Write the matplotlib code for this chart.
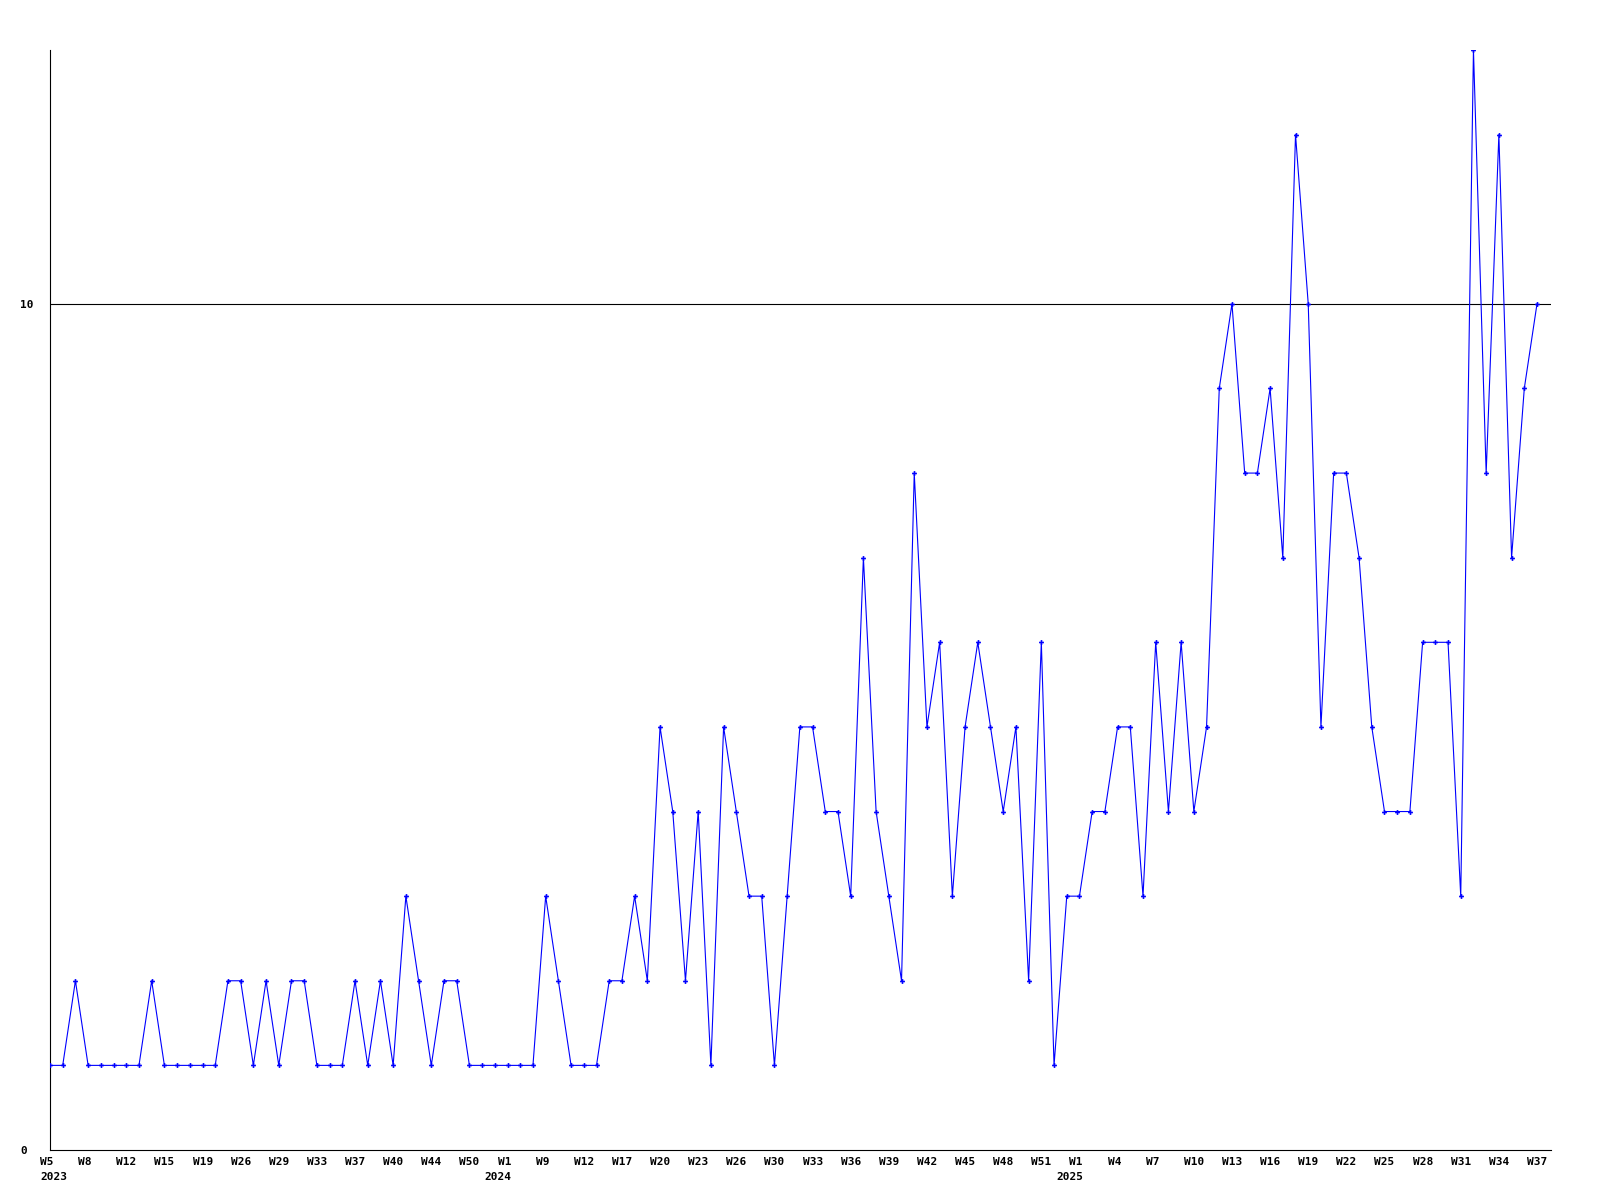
import matplotlib
matplotlib.use("Agg")
import matplotlib.pyplot as plt
from matplotlib.transforms import ScaledTranslation

# ============================================================
# DATA
# ============================================================
counts = [
    1, 1, 2, 1, 1, 1, 1, 1, 2, 1, 1, 1, 1, 1, 2, 2, 1, 2, 1, 2,
    2, 1, 1, 1, 2, 1, 2, 1, 3, 2, 1, 2, 2, 1, 1, 1, 1, 1, 1, 3,
    2, 1, 1, 1, 2, 2, 3, 2, 5, 4, 2, 4, 1, 5, 4, 3, 3, 1, 3, 5,
    5, 4, 4, 3, 7, 4, 3, 2, 8, 5, 6, 3, 5, 6, 5, 4, 5, 2, 6, 1,
    3, 3, 4, 4, 5, 5, 3, 6, 4, 6, 4, 5, 9, 10, 8, 8, 9, 7, 12, 10,
    5, 8, 8, 7, 5, 4, 4, 4, 6, 6, 6, 3, 13, 8, 12, 7, 9, 10,
]

week_labels = [
    "W5", "W8", "W12", "W15", "W19", "W26", "W29", "W33", "W37", "W40",
    "W44", "W50", "W1", "W9", "W12", "W17", "W20", "W23", "W26", "W30",
    "W33", "W36", "W39", "W42", "W45", "W48", "W51", "W1", "W4", "W7",
    "W10", "W13", "W16", "W19", "W22", "W25", "W28", "W31", "W34", "W37",
]
LABEL_STEP = 3

years = ["2023", "2024", "2025"]
year_index = [0, 36, 81]

y_ticks = [0, 10]

# ============================================================
# STYLE
# ============================================================
FONT = dict(family="DejaVu Sans Mono", weight="bold", size=8)
BLUE = "#0000ff"

fig = plt.figure(figsize=(16, 12), dpi=100)
ax = fig.add_axes([50 / 1600, 1 - 1150 / 1200, 1501 / 1600, 1100 / 1200])

x = list(range(len(counts)))
ax.plot(x, counts, color=BLUE, linewidth=0.8,
        marker="P", markersize=3.5, markeredgewidth=0, zorder=3)

ax.axhline(10, color="black", linewidth=0.8, zorder=2)

ax.set_xlim(0, len(counts) - 1 + 14 / 12.71)
ax.set_ylim(0, 13)

for s in ["top", "right"]:
    ax.spines[s].set_visible(False)
for s in ["left", "bottom"]:
    ax.spines[s].set_linewidth(0.8)

# ------------------------------------------------------------
# Ticks
# ------------------------------------------------------------
ax.set_yticks(y_ticks)
ax.set_yticklabels([str(v) for v in y_ticks], **FONT)
ax.tick_params(axis="y", length=0, pad=21.6)
for lab in ax.get_yticklabels():
    lab.set_horizontalalignment("left")

ax.set_xticks(x[::LABEL_STEP])
ax.set_xticklabels(week_labels, **FONT)
ax.tick_params(axis="x", length=0, pad=5)
shift = ScaledTranslation(-10 / 100, 0, fig.dpi_scale_trans)
for lab in ax.get_xticklabels():
    lab.set_horizontalalignment("left")
    lab.set_transform(lab.get_transform() + shift)

# year labels under the first week of each year
for i, (yr, idx) in enumerate(zip(years, year_index)):
    dx = -10 if i == 0 else -23.5
    ax.annotate(yr, xy=(idx, 0), xycoords=("data", "axes fraction"),
                xytext=(dx, -22), textcoords="offset pixels",
                ha="left", va="top", **FONT)

fig.savefig("out.png", dpi=100)
